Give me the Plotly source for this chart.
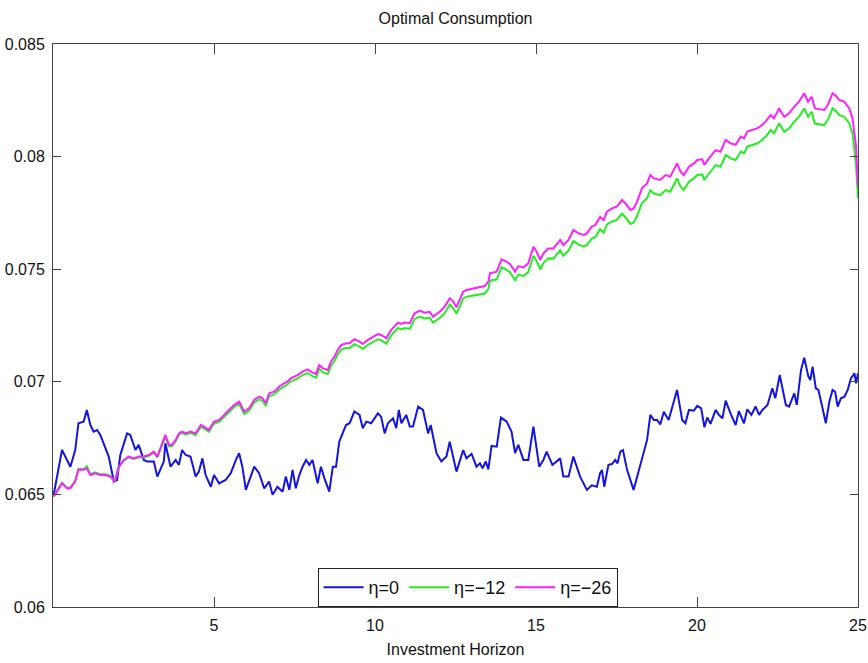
import plotly.graph_objects as go

# ---- data ----
t_blue = [0.02, 0.28, 0.54, 0.69, 0.79, 0.95, 1.05, 1.16, 1.26, 1.37, 1.47, 1.63, 1.73, 1.89, 1.99,
          2.09, 2.30, 2.40, 2.56, 2.66, 2.82, 2.92, 3.13, 3.24, 3.44, 3.49, 3.65, 3.81, 3.91, 4.01,
          4.12, 4.27, 4.43, 4.53, 4.64, 4.74, 4.90, 5.00, 5.16, 5.36, 5.52, 5.68, 5.78, 5.88, 5.99,
          6.25, 6.40, 6.56, 6.71, 6.82, 6.97, 7.13, 7.23, 7.34, 7.44, 7.54, 7.65, 7.75, 7.86, 7.96,
          8.06, 8.22, 8.32, 8.43, 8.58, 8.69, 8.79, 8.89, 9.10, 9.21, 9.36, 9.52, 9.62, 9.73, 9.88,
          10.09, 10.19, 10.30, 10.40, 10.56, 10.66, 10.74, 10.82, 10.97, 11.08, 11.18, 11.34, 11.49,
          11.65, 11.73, 11.91, 12.06, 12.22, 12.32, 12.53, 12.74, 12.84, 13.00, 13.15, 13.26, 13.34,
          13.44, 13.52, 13.62, 13.78, 13.91, 14.09, 14.24, 14.35, 14.45, 14.61, 14.76, 14.92, 15.10,
          15.23, 15.33, 15.51, 15.75, 15.85, 16.01, 16.16, 16.37, 16.58, 16.73, 16.89, 16.99, 17.05,
          17.12, 17.25, 17.36, 17.46, 17.53, 17.62, 17.70, 17.83, 18.03, 18.19, 18.45, 18.55, 18.66,
          18.76, 18.86, 18.97, 19.12, 19.38, 19.54, 19.64, 19.75, 19.90, 20.01, 20.13, 20.23, 20.32,
          20.42, 20.58, 20.68, 20.79, 20.89, 21.04, 21.20, 21.30, 21.46, 21.56, 21.69, 21.82, 21.93,
          22.03, 22.19, 22.34, 22.43, 22.57, 22.76, 22.86, 23.02, 23.10, 23.23, 23.33, 23.46, 23.52,
          23.59, 23.69, 23.77, 23.90, 24.00, 24.11, 24.21, 24.29, 24.37, 24.47, 24.58, 24.68, 24.78,
          24.89, 24.94, 25.00]
c_eta0 = [0.06498, 0.06697, 0.06623, 0.06697, 0.06816, 0.06823, 0.06875, 0.06808, 0.06779, 0.06786,
          0.06764, 0.06705, 0.06668, 0.06557, 0.06564, 0.06675, 0.06771, 0.06764, 0.06697, 0.06720,
          0.06653, 0.06646, 0.06646, 0.06579, 0.06646, 0.06727, 0.06623, 0.06653, 0.06631, 0.06697,
          0.06675, 0.06668, 0.06579, 0.06601, 0.06660, 0.06586, 0.06534, 0.06586, 0.06549, 0.06564,
          0.06594, 0.06653, 0.06683, 0.06623, 0.06520, 0.06623, 0.06594, 0.06527, 0.06557, 0.06498,
          0.06534, 0.06512, 0.06579, 0.06520, 0.06609, 0.06527, 0.06586, 0.06623, 0.06653, 0.06631,
          0.06653, 0.06549, 0.06623, 0.06571, 0.06512, 0.06623, 0.06623, 0.06734, 0.06808, 0.06816,
          0.06868, 0.06853, 0.06794, 0.06823, 0.06816, 0.06860, 0.06845, 0.06771, 0.06816, 0.06838,
          0.06794, 0.06875, 0.06816, 0.06853, 0.06801, 0.06801, 0.06890, 0.06875, 0.06771, 0.06808,
          0.06683, 0.06646, 0.06668, 0.06734, 0.06601, 0.06697, 0.06660, 0.06680, 0.06623, 0.06638,
          0.06616, 0.06646, 0.06611, 0.06715, 0.06712, 0.06841, 0.06823, 0.06779, 0.06683, 0.06720,
          0.06653, 0.06653, 0.06801, 0.06623, 0.06653, 0.06690, 0.06631, 0.06660, 0.06579, 0.06579,
          0.06668, 0.06579, 0.06520, 0.06540, 0.06534, 0.06594, 0.06608, 0.06534, 0.06631, 0.06635,
          0.06653, 0.06638, 0.06690, 0.06697, 0.06608, 0.06520, 0.06608, 0.06742, 0.06853, 0.06830,
          0.06830, 0.06811, 0.06867, 0.06830, 0.06964, 0.06830, 0.06816, 0.06875, 0.06872, 0.06893,
          0.06882, 0.06798, 0.06842, 0.06813, 0.06875, 0.06853, 0.06838, 0.06916, 0.06860, 0.06808,
          0.06870, 0.06816, 0.06878, 0.06853, 0.06890, 0.06853, 0.06875, 0.06897, 0.06971, 0.06927,
          0.07030, 0.06897, 0.06890, 0.06949, 0.06897, 0.07052, 0.07107, 0.07023, 0.07008, 0.07067,
          0.06971, 0.06964, 0.06882, 0.06816, 0.06912, 0.06964, 0.06956, 0.06890, 0.06927, 0.06934,
          0.06964, 0.07015, 0.07038, 0.06993, 0.07038]

t_eta = [0.02, 0.28, 0.43, 0.54, 0.69, 0.79, 0.95, 1.05, 1.16, 1.31, 1.47, 1.63, 1.78, 1.92, 2.04,
         2.20, 2.35, 2.51, 2.66, 2.82, 2.98, 3.13, 3.24, 3.34, 3.49, 3.60, 3.70, 3.81, 3.91, 4.01,
         4.12, 4.27, 4.43, 4.59, 4.69, 4.84, 5.00, 5.16, 5.31, 5.47, 5.62, 5.78, 5.94, 6.09, 6.25,
         6.40, 6.51, 6.61, 6.71, 6.87, 7.03, 7.18, 7.28, 7.39, 7.60, 7.75, 7.91, 8.06, 8.17, 8.27,
         8.38, 8.53, 8.63, 8.74, 8.84, 8.95, 9.10, 9.21, 9.36, 9.52, 9.62, 9.78, 9.93, 10.09, 10.19,
         10.35, 10.50, 10.61, 10.71, 10.82, 10.92, 11.08, 11.23, 11.39, 11.54, 11.70, 11.80, 12.01,
         12.17, 12.32, 12.43, 12.53, 12.74, 12.84, 13.05, 13.26, 13.41, 13.52, 13.57, 13.78, 13.93,
         14.09, 14.19, 14.35, 14.45, 14.61, 14.76, 14.92, 15.02, 15.13, 15.23, 15.38, 15.54, 15.75,
         15.85, 16.01, 16.16, 16.32, 16.48, 16.58, 16.73, 16.84, 16.99, 17.10, 17.20, 17.36, 17.51,
         17.67, 17.77, 17.93, 18.03, 18.14, 18.29, 18.45, 18.55, 18.66, 18.86, 19.02, 19.17, 19.38,
         19.49, 19.59, 19.75, 19.90, 20.01, 20.16, 20.23, 20.37, 20.58, 20.73, 20.89, 21.04, 21.20,
         21.36, 21.46, 21.56, 21.72, 21.88, 21.98, 22.13, 22.29, 22.39, 22.55, 22.71, 22.86, 23.02,
         23.17, 23.33, 23.45, 23.56, 23.66, 23.80, 23.95, 24.06, 24.21, 24.32, 24.42, 24.57, 24.73,
         24.83, 24.94, 25.00]
c_eta12 = [0.06492, 0.06552, 0.06530, 0.06530, 0.06562, 0.06614, 0.06612, 0.06624, 0.06590, 0.06598,
           0.06590, 0.06590, 0.06582, 0.06558, 0.06620, 0.06650, 0.06665, 0.06657, 0.06665, 0.06664,
           0.06671, 0.06686, 0.06664, 0.06700, 0.06758, 0.06714, 0.06714, 0.06736, 0.06765, 0.06773,
           0.06765, 0.06772, 0.06764, 0.06800, 0.06793, 0.06778, 0.06814, 0.06822, 0.06843, 0.06865,
           0.06887, 0.06901, 0.06857, 0.06871, 0.06908, 0.06922, 0.06915, 0.06893, 0.06937, 0.06944,
           0.06966, 0.06980, 0.06988, 0.07002, 0.07015, 0.07030, 0.07039, 0.07025, 0.07018, 0.07058,
           0.07043, 0.07034, 0.07070, 0.07092, 0.07121, 0.07143, 0.07150, 0.07150, 0.07167, 0.07156,
           0.07146, 0.07164, 0.07175, 0.07189, 0.07185, 0.07170, 0.07206, 0.07221, 0.07239, 0.07233,
           0.07239, 0.07235, 0.07279, 0.07290, 0.07281, 0.07285, 0.07263, 0.07283, 0.07306, 0.07343,
           0.07328, 0.07302, 0.07370, 0.07378, 0.07384, 0.07390, 0.07392, 0.07412, 0.07449, 0.07455,
           0.07509, 0.07497, 0.07487, 0.07452, 0.07476, 0.07470, 0.07487, 0.07560, 0.07537, 0.07499,
           0.07527, 0.07548, 0.07547, 0.07584, 0.07560, 0.07582, 0.07625, 0.07609, 0.07601, 0.07607,
           0.07636, 0.07642, 0.07678, 0.07662, 0.07698, 0.07712, 0.07719, 0.07747, 0.07732, 0.07701,
           0.07707, 0.07736, 0.07794, 0.07815, 0.07851, 0.07836, 0.07829, 0.07851, 0.07844, 0.07903,
           0.07866, 0.07851, 0.07888, 0.07903, 0.07918, 0.07921, 0.07896, 0.07925, 0.07962, 0.07955,
           0.08007, 0.07992, 0.07985, 0.08022, 0.08014, 0.08044, 0.08051, 0.08059, 0.08069, 0.08088,
           0.08118, 0.08103, 0.08147, 0.08110, 0.08125, 0.08155, 0.08177, 0.08214, 0.08177, 0.08199,
           0.08147, 0.08143, 0.08140, 0.08162, 0.08214, 0.08202, 0.08184, 0.08177, 0.08147, 0.08103,
           0.07960, 0.07816]
c_eta26 = [0.06490, 0.06549, 0.06527, 0.06527, 0.06557, 0.06609, 0.06609, 0.06616, 0.06586, 0.06594,
           0.06586, 0.06586, 0.06579, 0.06557, 0.06623, 0.06653, 0.06668, 0.06660, 0.06668, 0.06668,
           0.06675, 0.06690, 0.06668, 0.06705, 0.06764, 0.06720, 0.06720, 0.06742, 0.06771, 0.06779,
           0.06771, 0.06779, 0.06771, 0.06808, 0.06801, 0.06786, 0.06823, 0.06831, 0.06853, 0.06875,
           0.06897, 0.06912, 0.06868, 0.06882, 0.06919, 0.06934, 0.06927, 0.06905, 0.06949, 0.06956,
           0.06979, 0.06993, 0.07001, 0.07016, 0.07030, 0.07045, 0.07055, 0.07041, 0.07035, 0.07075,
           0.07060, 0.07052, 0.07089, 0.07112, 0.07141, 0.07163, 0.07171, 0.07171, 0.07189, 0.07178,
           0.07168, 0.07186, 0.07197, 0.07212, 0.07208, 0.07193, 0.07230, 0.07245, 0.07263, 0.07257,
           0.07263, 0.07260, 0.07304, 0.07316, 0.07307, 0.07311, 0.07289, 0.07311, 0.07334, 0.07371,
           0.07356, 0.07331, 0.07400, 0.07408, 0.07415, 0.07422, 0.07425, 0.07445, 0.07482, 0.07489,
           0.07544, 0.07533, 0.07523, 0.07489, 0.07514, 0.07508, 0.07526, 0.07600, 0.07578, 0.07541,
           0.07570, 0.07592, 0.07592, 0.07630, 0.07607, 0.07630, 0.07674, 0.07659, 0.07652, 0.07659,
           0.07689, 0.07696, 0.07733, 0.07718, 0.07755, 0.07770, 0.07778, 0.07807, 0.07793, 0.07763,
           0.07770, 0.07800, 0.07859, 0.07881, 0.07918, 0.07903, 0.07896, 0.07918, 0.07911, 0.07970,
           0.07933, 0.07918, 0.07955, 0.07970, 0.07985, 0.07988, 0.07963, 0.07992, 0.08029, 0.08022,
           0.08074, 0.08059, 0.08052, 0.08089, 0.08081, 0.08111, 0.08118, 0.08126, 0.08136, 0.08155,
           0.08185, 0.08170, 0.08214, 0.08177, 0.08192, 0.08222, 0.08244, 0.08281, 0.08244, 0.08266,
           0.08214, 0.08210, 0.08207, 0.08229, 0.08281, 0.08269, 0.08251, 0.08244, 0.08214, 0.08170,
           0.08044, 0.07866]

series_names = ["η=0", "η=−12", "η=−26"]
x_ticks = [5, 10, 15, 20, 25]
y_ticks = [0.06, 0.065, 0.07, 0.075, 0.08, 0.085]
y_tick_text = ["0.06", "0.065", "0.07", "0.075", "0.08", "0.085"]

FONT = "Liberation Sans, Arial, sans-serif"

fig = go.Figure()
fig.add_trace(go.Scatter(x=t_blue, y=c_eta0, mode="lines", name=series_names[0],
                         line=dict(color="#1414e0", width=2)))
fig.add_trace(go.Scatter(x=t_eta, y=c_eta12, mode="lines", name=series_names[1],
                         line=dict(color="#22ee22", width=2)))
fig.add_trace(go.Scatter(x=t_eta, y=c_eta26, mode="lines", name=series_names[2],
                         line=dict(color="#ff1fff", width=2)))

axis_common = dict(showline=True, linecolor="#444444", linewidth=1, mirror="ticks",
                   ticks="inside", tickcolor="#444444", showgrid=False, zeroline=False,
                   automargin=False,
                   tickfont=dict(family=FONT, size=16, color="#111111"))
fig.update_xaxes(range=[0, 25], tickvals=x_ticks, ticklen=10, ticklabelstandoff=4,
                 title=dict(text="Investment Horizon", font=dict(family=FONT, size=16, color="#111111"),
                            standoff=10),
                 **axis_common)
fig.update_yaxes(range=[0.06, 0.085], tickvals=y_ticks, ticktext=y_tick_text, ticklen=8,
                 ticklabelstandoff=4, **axis_common)

fig.update_layout(
    width=868, height=663,
    margin=dict(l=53, r=10, t=44, b=56),
    paper_bgcolor="white", plot_bgcolor="white",
    title=dict(text="Optimal Consumption", x=0.5, xref="paper", xanchor="center",
               y=0.973, yanchor="middle",
               font=dict(family=FONT, size=16, color="#111111")),
    legend=dict(orientation="h", x=0.515, xanchor="center", y=0, yanchor="bottom",
                bordercolor="#222222", borderwidth=1, bgcolor="white",
                font=dict(family=FONT, size=18, color="#111111"),
                itemwidth=40, tracegroupgap=0),
    showlegend=True,
)

fig.write_html("out.html")
